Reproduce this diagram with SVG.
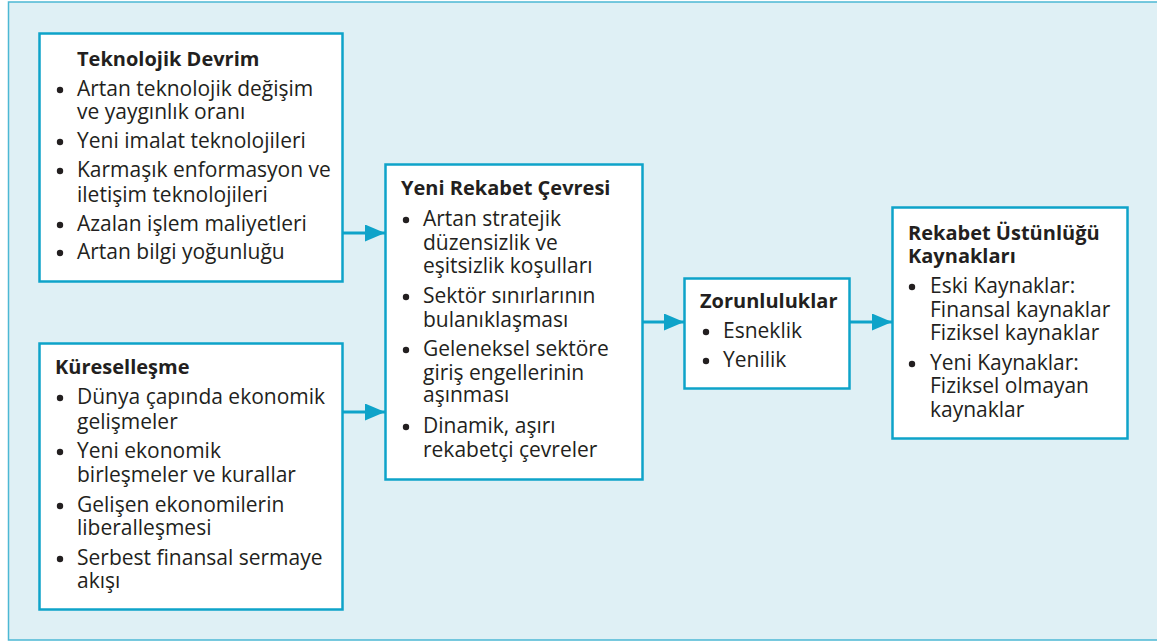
<svg xmlns="http://www.w3.org/2000/svg" width="1157" height="641" viewBox="0 0 1157 641">
  <style>
    .panel { fill: #dff0f5; stroke: #4cb8d4; stroke-width: 1.5; }
    .box { fill: #ffffff; stroke: #0ea3c9; stroke-width: 2.5; }
    .link { stroke: #0ea3c9; stroke-width: 3; fill: none; }
    .dot { fill: #231f20; }
    text { font-family: "Open Sans", "Noto Sans", sans-serif; font-size: 21px; fill: #231f20; }
    .title { font-weight: bold; font-size: 20px; }
  </style>
  <defs>
    <marker id="head" markerWidth="20" markerHeight="17" refX="20" refY="8.5" orient="auto" markerUnits="userSpaceOnUse">
      <path d="M0,0 L20,8.5 L0,17 Z" fill="#0ea3c9"/>
    </marker>
    <circle id="bullet" class="dot" cx="0" cy="0" r="3.2"/>
  </defs>

  <!-- background panel -->
  <rect class="panel" x="8.5" y="2" width="1160" height="638"/>

  <!-- connectors -->
  <g id="connectors">
    <line class="link" x1="343" y1="233" x2="385" y2="233" marker-end="url(#head)"/>
    <line class="link" x1="343" y1="412" x2="385" y2="412" marker-end="url(#head)"/>
    <line class="link" x1="643" y1="322" x2="684" y2="322" marker-end="url(#head)"/>
    <line class="link" x1="850" y1="322" x2="892" y2="322" marker-end="url(#head)"/>
  </g>

  <g id="teknolojik-devrim">
    <rect class="box" x="39.5" y="33.5" width="303" height="248"/>
    <text class="title" x="77" y="66">Teknolojik Devrim</text>
    <use href="#bullet" x="60" y="90"/><text x="77" y="96">Artan teknolojik değişim</text>
    <text x="77" y="119">ve yaygınlık oranı</text>
    <use href="#bullet" x="60" y="142"/><text x="77" y="148">Yeni imalat teknolojileri</text>
    <use href="#bullet" x="60" y="171"/><text x="77" y="177">Karmaşık enformasyon ve</text>
    <text x="77" y="202">iletişim teknolojileri</text>
    <use href="#bullet" x="60" y="225"/><text x="77" y="231">Azalan işlem maliyetleri</text>
    <use href="#bullet" x="60" y="253"/><text x="77" y="259">Artan bilgi yoğunluğu</text>
  </g>

  <g id="kuresellesme">
    <rect class="box" x="39.5" y="343.5" width="303" height="266"/>
    <text class="title" x="55" y="374">Küreselleşme</text>
    <use href="#bullet" x="60" y="398"/><text x="77" y="404">Dünya çapında ekonomik</text>
    <text x="77" y="429">gelişmeler</text>
    <use href="#bullet" x="60" y="452"/><text x="77" y="458">Yeni ekonomik</text>
    <text x="77" y="482">birleşmeler ve kurallar</text>
    <use href="#bullet" x="60" y="506"/><text x="77" y="512">Gelişen ekonomilerin</text>
    <text x="77" y="535">liberalleşmesi</text>
    <use href="#bullet" x="60" y="559"/><text x="77" y="565">Serbest finansal sermaye</text>
    <text x="77" y="588">akışı</text>
  </g>

  <g id="yeni-rekabet-cevresi">
    <rect class="box" x="385.5" y="164.5" width="257" height="315"/>
    <text class="title" x="401" y="195">Yeni Rekabet Çevresi</text>
    <use href="#bullet" x="406" y="220"/><text x="423" y="226">Artan stratejik</text>
    <text x="423" y="250">düzensizlik ve</text>
    <text x="423" y="273">eşitsizlik koşulları</text>
    <use href="#bullet" x="406" y="297"/><text x="423" y="303">Sektör sınırlarının</text>
    <text x="423" y="327">bulanıklaşması</text>
    <use href="#bullet" x="406" y="350"/><text x="423" y="356">Geleneksel sektöre</text>
    <text x="423" y="380">giriş engellerinin</text>
    <text x="423" y="402">aşınması</text>
    <use href="#bullet" x="406" y="427"/><text x="423" y="433">Dinamik, aşırı</text>
    <text x="423" y="457">rekabetçi çevreler</text>
  </g>

  <g id="zorunluluklar">
    <rect class="box" x="684.5" y="278.5" width="165" height="110"/>
    <text class="title" x="700" y="308">Zorunluluklar</text>
    <use href="#bullet" x="706" y="332"/><text x="723" y="338">Esneklik</text>
    <use href="#bullet" x="706" y="361"/><text x="723" y="367">Yenilik</text>
  </g>

  <g id="rekabet-ustunlugu-kaynaklari">
    <rect class="box" x="892.5" y="207.5" width="235" height="231"/>
    <text class="title" x="908" y="240">Rekabet Üstünlüğü</text>
    <text class="title" x="908" y="263">Kaynakları</text>
    <use href="#bullet" x="912" y="287"/><text x="930" y="293">Eski Kaynaklar:</text>
    <text x="930" y="317">Finansal kaynaklar</text>
    <text x="930" y="340">Fiziksel kaynaklar</text>
    <use href="#bullet" x="912" y="364"/><text x="930" y="370">Yeni Kaynaklar:</text>
    <text x="930" y="393">Fiziksel olmayan</text>
    <text x="930" y="417">kaynaklar</text>
  </g>
</svg>
